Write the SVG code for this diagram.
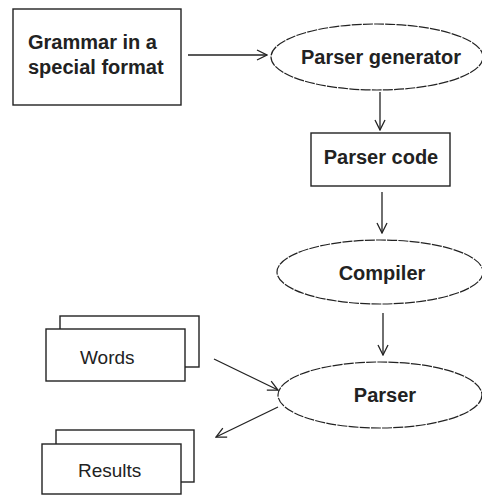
<svg xmlns="http://www.w3.org/2000/svg" width="482" height="495" viewBox="0 0 482 495">
<style>
.box{fill:#fff;stroke:#222;stroke-width:1.4}
.ell{fill:#fff;stroke:#222;stroke-width:1.2;stroke-dasharray:10 1.2}
.b{font-family:"Liberation Sans",Arial,sans-serif;font-weight:bold;font-size:20px;fill:#222}
.n{font-family:"Liberation Sans",Arial,sans-serif;font-size:19px;fill:#222}
.c{fill:none;stroke:#222;stroke-width:1.3}
</style>
<defs>
<marker id="a" viewBox="0 0 12 12" refX="11" refY="6" markerWidth="12" markerHeight="12" markerUnits="userSpaceOnUse" orient="auto">
<path d="M1,1 L11,6 L1,11" fill="none" stroke="#222" stroke-width="1.3"/>
</marker>
</defs>
<rect width="482" height="495" fill="#fff"/>
<g id="connectors">
<line class="c" x1="188" y1="55" x2="267" y2="55" marker-end="url(#a)"/>
<line class="c" x1="380" y1="92" x2="380" y2="130" marker-end="url(#a)"/>
<line class="c" x1="382" y1="192" x2="382" y2="233" marker-end="url(#a)"/>
<line class="c" x1="383" y1="313" x2="383" y2="355" marker-end="url(#a)"/>
<line class="c" x1="214" y1="359" x2="278" y2="390" marker-end="url(#a)"/>
<line class="c" x1="278" y1="407" x2="216" y2="437" marker-end="url(#a)"/>
</g>
<g id="grammar">
<rect class="box" x="13" y="9" width="168" height="96"/>
<text class="b" x="28" y="49">Grammar in a</text>
<text class="b" x="28" y="74">special format</text>
</g>
<g id="parser-generator">
<ellipse class="ell" cx="377" cy="57" rx="106" ry="33"/>
<text class="b" x="381" y="64" text-anchor="middle">Parser generator</text>
</g>
<g id="parser-code">
<rect class="box" x="311" y="133" width="139" height="53"/>
<text class="b" x="381" y="164" text-anchor="middle">Parser code</text>
</g>
<g id="compiler">
<ellipse class="ell" cx="380" cy="272" rx="103" ry="32"/>
<text class="b" x="382" y="280" text-anchor="middle">Compiler</text>
</g>
<g id="parser">
<ellipse class="ell" cx="380" cy="395" rx="102" ry="33"/>
<text class="b" x="385" y="402" text-anchor="middle">Parser</text>
</g>
<g id="words">
<rect class="box" x="60" y="316" width="139" height="51"/>
<rect class="box" x="46" y="329" width="139" height="52"/>
<text class="n" x="80" y="364">Words</text>
</g>
<g id="results">
<rect class="box" x="56" y="430" width="138" height="52"/>
<rect class="box" x="42" y="444" width="139" height="50"/>
<text class="n" x="78" y="477">Results</text>
</g>
</svg>
